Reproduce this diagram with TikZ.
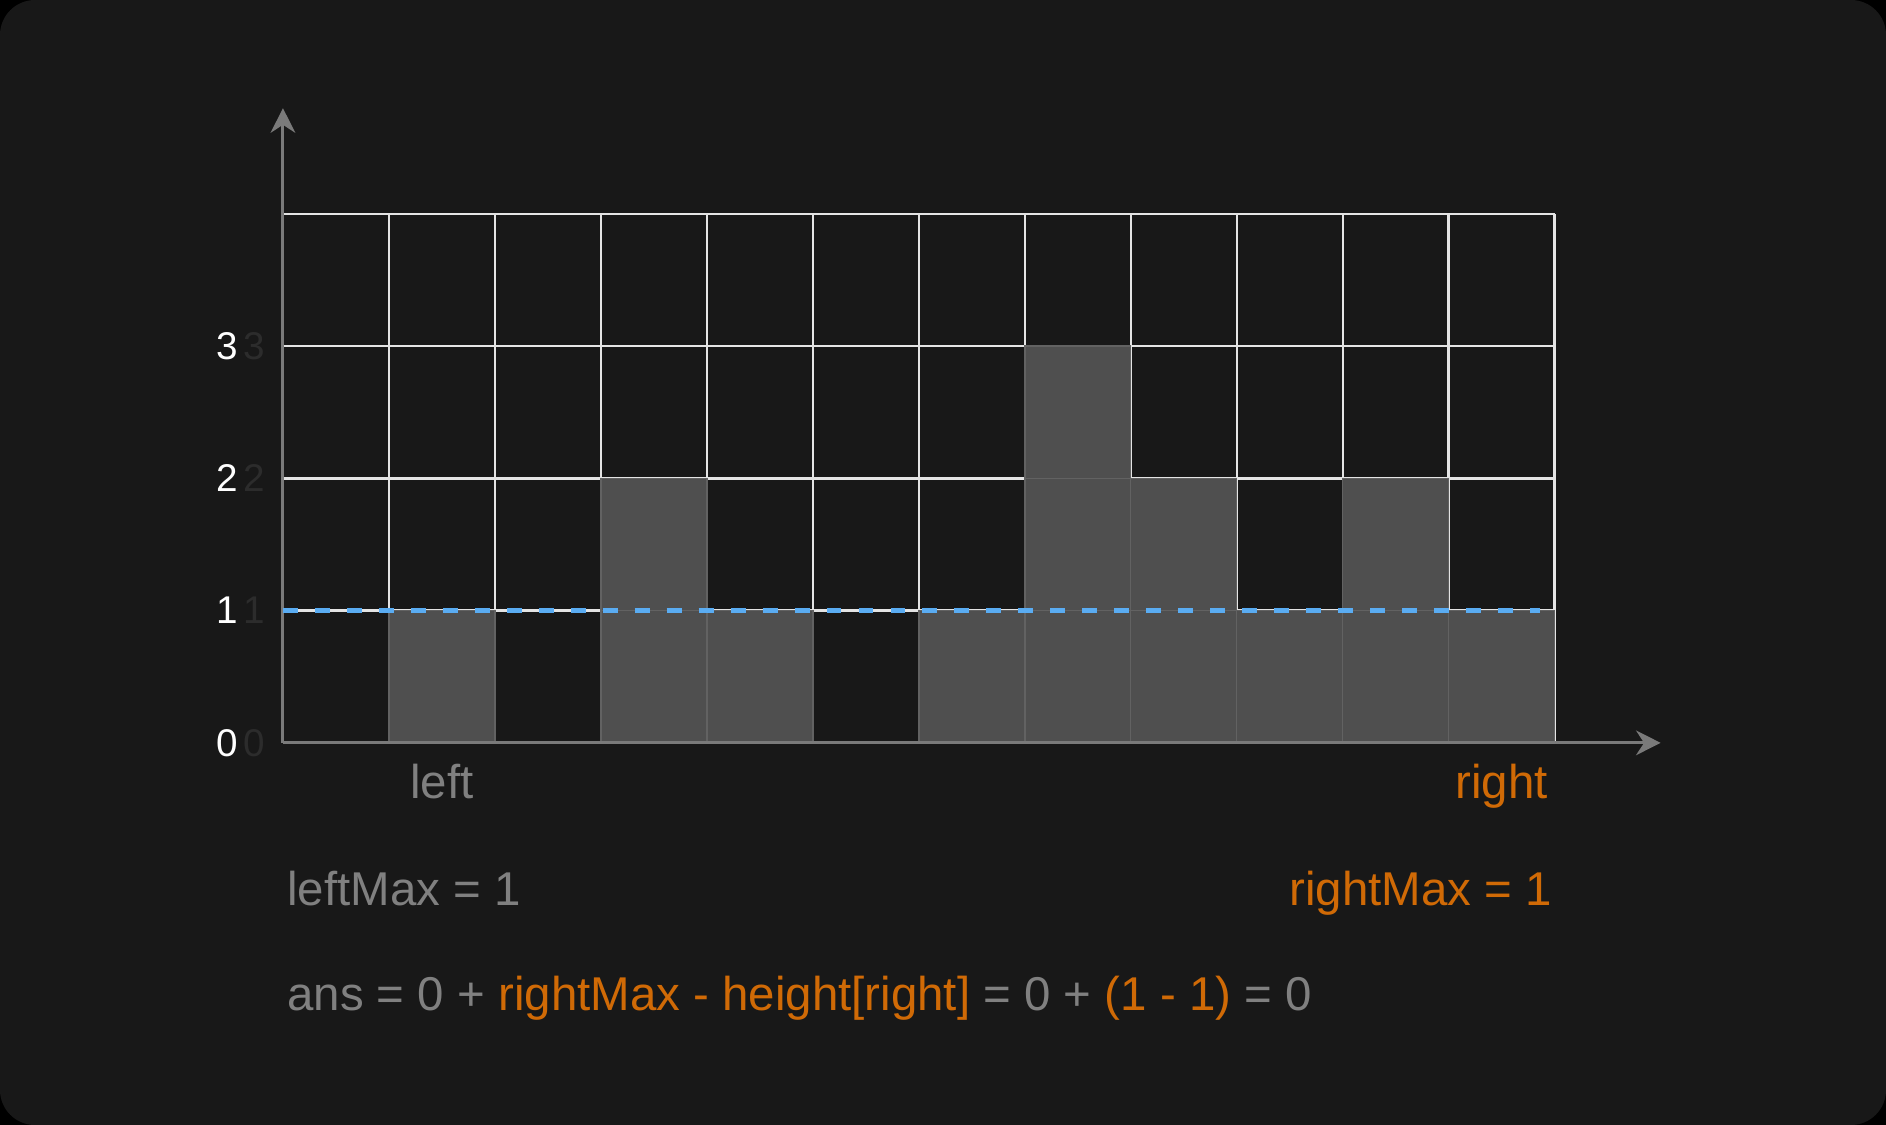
\documentclass[tikz,border=0pt]{standalone}
\usepackage{fontspec}
\setmainfont{Liberation Sans}
\usetikzlibrary{arrows.meta}
\definecolor{bgdark}{HTML}{181818}
\definecolor{gridwhite}{HTML}{E4E4E4}
\definecolor{axisgray}{HTML}{7A7A7A}
\definecolor{barfill}{HTML}{4F4F4F}
\definecolor{barline}{HTML}{626262}
\definecolor{maxblue}{HTML}{5AACF2}
\definecolor{textgray}{HTML}{808080}
\definecolor{ptrorange}{HTML}{D06A06}
\definecolor{ghostgray}{HTML}{2C2C2C}
\tikzset{
  gridline/.style={gridwhite,line width=1.4pt},
  barcell/.style={fill=barfill,draw=barline,line width=0.8pt},
  axisline/.style={axisgray,line width=1.7pt,-{Stealth[length=14pt,width=14pt]}},
  ticklabel/.style={inner sep=0pt,font=\fontsize{22}{26}\selectfont},
  bigtext/.style={inner sep=0pt,font=\fontsize{27}{32}\selectfont}
}

\begin{document}
\begin{tikzpicture}[x=0.02cm,y=-0.02cm]
    \fill[black] (0,0) rectangle (1886,1125);
    \fill[bgdark,rounded corners=0.7cm] (0,0) rectangle (1886,1125);
    \begin{scope}[xshift=5.66cm,yshift=-14.86cm,x=2.12cm,y=2.645cm]
      % grid lines
      \foreach \c in {0,...,12} \draw[gridline] (\c,0) -- (\c,4);
      \foreach \r in {0,...,4} \draw[gridline] (0,\r) -- (12,\r);
      % bars
      \foreach \h [count=\i from 0] in {0,1,0,2,1,0,1,3,2,1,2,1} {
        \ifnum\h>0
          \foreach \k in {1,...,\h} \draw[barcell] (\i,\k-1) rectangle (\i+1,\k);
        \fi
      }
      \draw[axisline] (0,0) -- (0,4.8);
      \draw[axisline] (0,0) -- (13,0);
      \draw[maxblue,line width=3.1pt,dash pattern=on 8.5pt off 9.7pt] (0,1) -- (11.86,1);
      \foreach \k in {0,...,3} {
        \node[ticklabel,white] (tick\k) at (-0.53,\k) {\k};
        \node[ticklabel,ghostgray] (ghost\k) at (-0.27,\k) {\k};
      }
      \node[bigtext,textgray,anchor=base] (lblleft) at (1.5,-0.4234) {left};
      \node[bigtext,ptrorange,anchor=base] (lblright) at (11.5,-0.4234) {right};
    \end{scope}
    \node[bigtext,textgray,anchor=base west] (leftmax) at (287,905) {leftMax = 1};
    \node[bigtext,ptrorange,anchor=base east] (rightmax) at (1552,905) {rightMax = 1};
    \node[bigtext,textgray,anchor=base west] (ans) at (287,1010)
      {ans = 0 + \textcolor{ptrorange}{rightMax - height[right]} = 0 + \textcolor{ptrorange}{(1 - 1)} = 0};
\end{tikzpicture}
\end{document}
